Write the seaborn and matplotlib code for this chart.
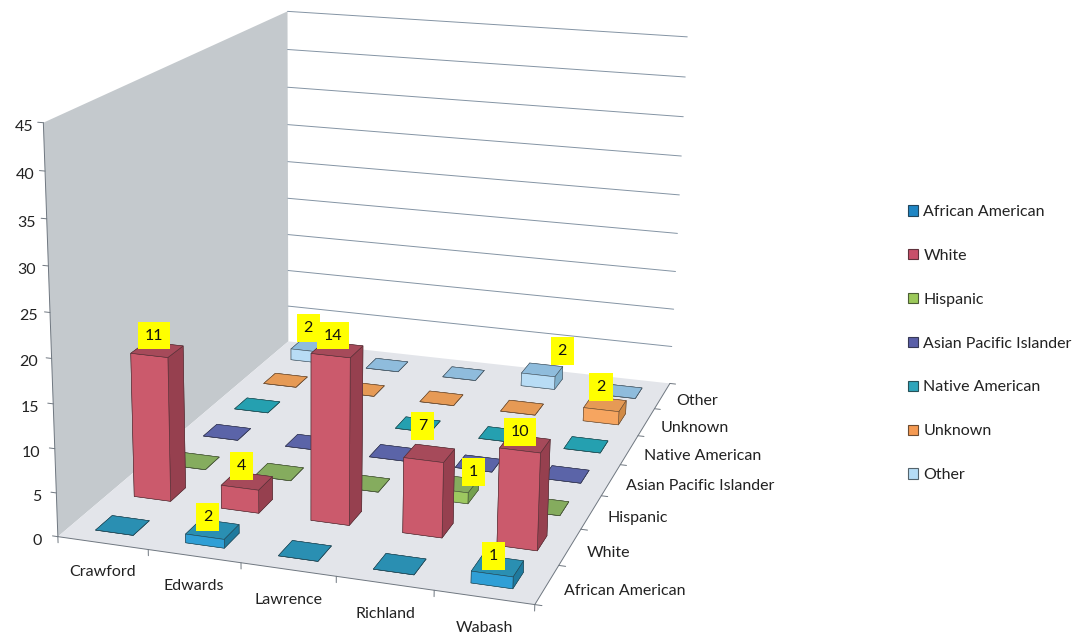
import numpy as np
import matplotlib
matplotlib.use("Agg")
import matplotlib.pyplot as plt
from matplotlib.patches import Patch
from mpl_toolkits.mplot3d import proj3d
from mpl_toolkits.mplot3d.art3d import Poly3DCollection
import seaborn as sns

sns.set_theme(style="white")
plt.rcParams['font.family'] = ['Lato', 'DejaVu Sans']

counties = ["Crawford", "Edwards", "Lawrence", "Richland", "Wabash"]
groups = ["African American", "White", "Hispanic", "Asian Pacific Islander",
          "Native American", "Unknown", "Other"]
# bar heights as drawn against the value axis
african_american = [0, 1, 0, 0, 1.3]
white = [16.8, 2.7, 19.1, 8.6, 11]
hispanic = [0, 0, 0, 1.3, 0]
asian_pacific = [0, 0, 0, 0, 0]
native_american = [0, 0, 0, 0, 0]
unknown = [0, 0, 0, 0, 1.7]
other = [1.5, 0, 0, 1.7, 0]
series = [african_american, white, hispanic, asian_pacific, native_american, unknown, other]
# numbers printed on the yellow data labels
label_african_american = [None, 2, None, None, 1]
label_white = [11, 4, 14, 7, 10]
label_hispanic = [None, None, None, 1, None]
label_asian_pacific = [None] * 5
label_native_american = [None] * 5
label_unknown = [None, None, None, None, 2]
label_other = [2, None, None, 2, None]
labels = [label_african_american, label_white, label_hispanic, label_asian_pacific,
          label_native_american, label_unknown, label_other]
z_ticks = [0, 5, 10, 15, 20, 25, 30, 35, 40, 45]

front_cols = ["#2f9fd6", "#cb5a6c", "#9dc860", "#6a72b8", "#2fb0c0", "#f6a560", "#b8dcf5"]
top_cols = ["#2a8fb2", "#a64a5a", "#85ac5e", "#5b64a8", "#25a0b0", "#e69a55", "#8fbcdc"]
side_cols = ["#1f7a9e", "#96404f", "#74a04e", "#4c5590", "#1f8a98", "#d08a46", "#80b0cc"]
legend_cols = ["#1f86c4", "#c8506a", "#9cc95a", "#5a5fa8", "#2fa5bb", "#f59a52", "#b5dcf5"]
palette = sns.color_palette(front_cols)

W, H = 1078, 634
nx, ny, zmax = len(counties), len(groups), z_ticks[-1]

fig = plt.figure(figsize=(W / 100, H / 100), dpi=100, facecolor="white")
# square 3D panel that contains the whole figure
ax = fig.add_axes([0, -(W - H) / 2 / H, 1, W / H], projection="3d")
ax.set_axis_off()
ax.patch.set_visible(False)
ax.computed_zorder = False
ax.apply_aspect()

# camera calibration: box corners -> image pixels
world = np.array([[0, 0, 0], [nx, 0, 0], [0, ny, 0], [nx, ny, 0],
                  [0, 0, zmax], [0, ny, zmax], [nx, ny, zmax]], float)
pixels = np.array([[58, 536], [535, 605], [288, 342], [670, 383],
                   [43, 123], [288, 11], [687, 37]], float)


def build_proj():
    disp = np.column_stack([pixels[:, 0], H - pixels[:, 1]])
    uv = ax.transData.inverted().transform(disp)
    A, b = [], []
    for (X, Y, Z), (u, v) in zip(world, uv):
        A.append([X, Y, Z, 1, 0, 0, 0, 0, -u * X, -u * Y, -u * Z]); b.append(u)
        A.append([0, 0, 0, 0, X, Y, Z, 1, -v * X, -v * Y, -v * Z]); b.append(v)
    p = np.linalg.lstsq(np.array(A), np.array(b), rcond=None)[0]
    return np.array([[p[0], p[1], p[2], p[3]],
                     [p[4], p[5], p[6], p[7]],
                     [0, 0, 0, -1],
                     [p[8], p[9], p[10], 1]])


ax.get_proj = build_proj
M0 = build_proj()


def put(X, Y, Z, s, dx=0, dy=0, **kw):
    """Text at a 3D data position, nudged by screen pixels (dy positive = down)."""
    u, v, _ = proj3d.proj_transform(X, Y, Z, M0)
    px, py = ax.transData.transform((u, v))
    return ax.text2D((px + dx) / W, (py - dy) / H, s, transform=fig.transFigure, **kw)


# walls and floor
def face(verts, color, z):
    ax.add_collection3d(Poly3DCollection([verts], facecolors=color, edgecolors="none", zorder=z))


face([(0, 0, 0), (0, ny, 0), (0, ny, zmax), (0, 0, zmax)], "#c4c9cd", 1)
face([(0, 0, 0), (nx, 0, 0), (nx, ny, 0), (0, ny, 0)], "#e3e5ea", 2)

line_kw = dict(color="#6f7780", lw=0.7, zorder=3)
for z in z_ticks[1:]:
    ax.plot([0, nx], [ny, ny], [z, z], color="#8494a4", lw=0.7, zorder=3)
# axis lines and ticks
ax.plot([0, 0], [0, 0], [0, zmax], **line_kw)
ax.plot([0, nx], [0, 0], [0, 0], **line_kw)
ax.plot([nx, nx], [0, ny], [0, 0], **line_kw)
txt = dict(fontsize=11.5, color="#222222", zorder=500)
for z in z_ticks:
    ax.plot([0, -0.06], [0, 0], [z, z], **line_kw)
    put(0, 0, z, str(z), dx=-10 - 6 * (1 - z / zmax), dy=4, ha="right", va="center", **txt)
for i in range(nx + 1):
    ax.plot([i, i], [0, 0], [0, -0.7], **line_kw)
for j in range(ny + 1):
    ax.plot([nx, nx + 0.07], [j, j], [0, 0], **line_kw)

# bars
frac = 0.42
for j in range(ny - 1, -1, -1):
    for i in range(nx):
        v = series[j][i]
        f, t, s = palette[j], top_cols[j], side_cols[j]
        cols = [t] * 6 if v == 0 else [t, t, f, t, s, s]
        edge = sns.dark_palette(top_cols[j], n_colors=4)[1]
        ax.bar3d(i + 0.5 - frac / 2, j + 0.5 - frac / 2, 0, frac, frac, v, color=cols, shade=False,
                 edgecolor=edge, linewidth=0.4, zorder=10 + (ny - j) * 10 + i)

# data labels; the hand-placed boxes sit a little off their bars: (group, county) -> pixel nudge
label_nudges = {(1, 0): (2, -2), (1, 1): (0, -3), (1, 2): (1, -2), (1, 3): (-2, -15),
                (2, 3): (24, 0), (0, 4): (1, 2), (6, 3): (25, -7), (5, 4): (1, -5), (6, 0): (1, -6)}
for j in range(ny):
    for i in range(nx):
        lab = labels[j][i]
        if lab is not None:
            nx_px, ny_px = label_nudges.get((j, i), (0, 0))
            put(i + 0.5, j + 0.5, series[j][i], str(lab), dx=-5 + nx_px, dy=-12 + ny_px,
                ha="center", va="center", fontsize=11.5, color="#111111", zorder=700 - j * 10 + i,
                bbox=dict(facecolor="#ffff00", edgecolor="none", pad=5))

# category labels
for i, name in enumerate(counties):
    put(i + 0.80 - 0.028 * i, -0.68, 0, name, ha="center", va="center", **txt)
for j, name in enumerate(groups):
    put(nx + 0.17, j + 0.5, 0, name, dy=4, ha="left", va="center", **txt)

handles = [Patch(facecolor=c, edgecolor=sns.dark_palette(c, n_colors=4)[1], linewidth=0.8) for c in legend_cols]
fig.legend(handles, groups, loc="upper left", bbox_to_anchor=(900 / W, 1 - 197 / H), frameon=False,
           fontsize=11.5, handlelength=0.62, handleheight=0.62, handletextpad=0.35, labelspacing=1.87,
           borderpad=0.5, borderaxespad=0, labelcolor="#222222")

fig.savefig("out.png", dpi=100, facecolor="white")
